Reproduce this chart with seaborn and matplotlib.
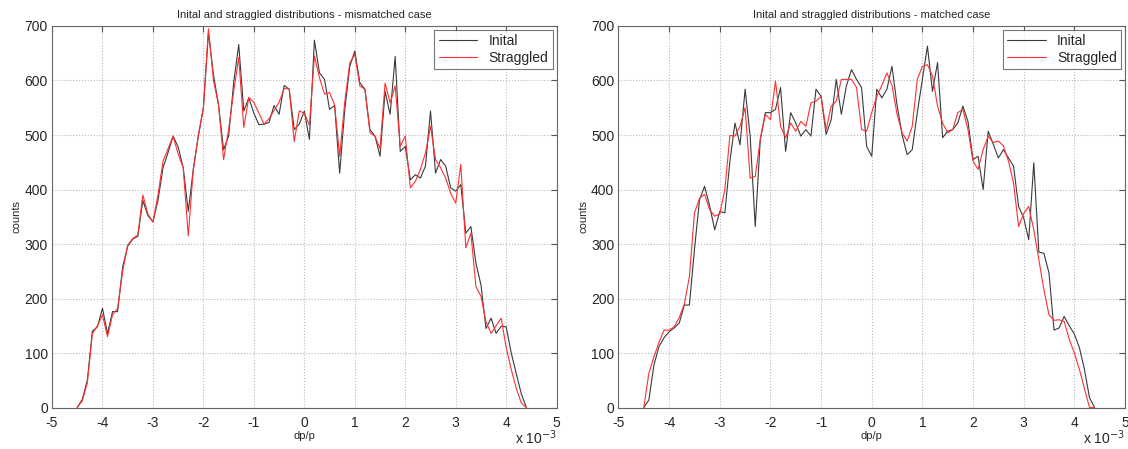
import numpy as np
import pandas as pd
import seaborn as sns
import matplotlib.pyplot as plt
from matplotlib.ticker import FuncFormatter

# bin centres of dp/p (units of 1e-3)
dpp = np.round(np.arange(-45, 45) * 0.1, 1)

# mismatched case
mis_initial = [0, 15, 50, 140, 148, 182, 136, 176, 176, 258,
               296, 309, 314, 380, 352, 341, 380, 440, 468, 498,
               478, 440, 360, 437, 498, 550, 688, 610, 555, 473,
               498, 596, 666, 544, 568, 540, 519, 520, 523, 554,
               538, 591, 584, 510, 520, 544, 492, 674, 614, 602,
               547, 554, 430, 545, 626, 654, 596, 584, 510, 498,
               461, 580, 538, 644, 470, 479, 418, 427, 421, 443,
               544, 430, 455, 443, 403, 397, 409, 320, 332, 265,
               225, 145, 164, 136, 149, 148, 100, 62, 25, 0]
mis_straggled = [0, 12, 45, 135, 150, 170, 130, 170, 182, 250,
                 298, 310, 316, 390, 355, 340, 390, 452, 475, 498,
                 465, 440, 315, 437, 500, 550, 695, 600, 555, 455,
                 510, 580, 642, 514, 569, 560, 540, 520, 530, 545,
                 560, 585, 585, 488, 544, 540, 518, 645, 605, 575,
                 578, 555, 461, 560, 632, 648, 590, 584, 504, 498,
                 475, 595, 559, 590, 479, 498, 403, 415, 437, 467,
                 516, 455, 440, 421, 393, 375, 446, 293, 320, 222,
                 204, 157, 136, 150, 164, 110, 70, 35, 8, 0]

# matched case
mat_initial = [0, 14, 78, 112, 128, 139, 146, 155, 188, 188,
               290, 381, 406, 370, 326, 360, 357, 452, 522, 482,
               584, 498, 332, 492, 541, 541, 547, 587, 470, 541,
               522, 498, 510, 498, 584, 571, 501, 528, 602, 538,
               590, 620, 602, 587, 479, 461, 584, 568, 584, 626,
               555, 500, 464, 473, 541, 602, 663, 580, 633, 495,
               507, 510, 522, 553, 525, 455, 461, 400, 507, 483,
               458, 473, 458, 443, 369, 348, 308, 449, 285, 283,
               247, 142, 146, 167, 150, 135, 110, 70, 18, 0]
mat_straggled = [0, 63, 93, 120, 142, 142, 148, 165, 190, 240,
                 357, 384, 391, 363, 351, 355, 400, 499, 498, 516,
                 550, 421, 424, 492, 538, 528, 599, 516, 495, 522,
                 507, 525, 516, 559, 562, 571, 510, 553, 562, 602,
                 602, 602, 587, 510, 507, 541, 571, 591, 614, 591,
                 538, 504, 489, 516, 602, 626, 629, 608, 553, 522,
                 504, 510, 541, 547, 510, 452, 437, 473, 498, 486,
                 489, 480, 452, 412, 332, 356, 369, 326, 271, 216,
                 170, 160, 161, 158, 125, 100, 70, 35, 0, 0]

series_names = ['Inital', 'Straggled']
panel_titles = ['Inital and straggled distributions - mismatched case',
                'Inital and straggled distributions - matched case']

sns.set_style('white')
plt.rcParams['font.family'] = ['Liberation Sans', 'DejaVu Sans']
plt.rcParams['axes.unicode_minus'] = False

fig = plt.figure(figsize=(11.28, 4.49), dpi=100)
ax_l = fig.add_axes([0.0461, 0.0924, 0.4474, 0.8497])
ax_r = fig.add_axes([0.5483, 0.0924, 0.4490, 0.8497])

panels = [(ax_l, mis_initial, mis_straggled), (ax_r, mat_initial, mat_straggled)]
for (ax, init, strag), title in zip(panels, panel_titles):
    df = pd.DataFrame({
        'dp/p': np.concatenate([dpp, dpp]) * 1e-3,
        'counts': init + strag,
        'series': [series_names[0]] * len(dpp) + [series_names[1]] * len(dpp),
    })
    sns.lineplot(data=df, x='dp/p', y='counts', hue='series', estimator=None,
                 palette={'Inital': '#3a3a3a', 'Straggled': '#ff3030'},
                 linewidth=0.8, ax=ax)
    ax.set_xlim(-5e-3, 5e-3)
    ax.set_ylim(0, 700)
    ax.set_xticks(np.arange(-5, 6) * 1e-3)
    ax.set_yticks(np.arange(0, 701, 100))
    # MATLAB style: tick labels in units of 1e-3, exponent written at the corner
    ax.xaxis.set_major_formatter(FuncFormatter(lambda v, p: '%g' % round(v * 1e3, 6)))
    ax.text(1.0, -0.08, r'x 10$^{-3}$', transform=ax.transAxes,
            ha='right', va='center', fontsize=10)
    ax.grid(True, linestyle=':', color='#b8b8b8', linewidth=0.8)
    ax.tick_params(direction='in', length=4, labelsize=10, top=True, right=True,
                   color='#555555')
    ax.tick_params(axis='x', pad=6)
    ax.tick_params(axis='y', pad=3)
    for s in ax.spines.values():
        s.set_color('#666666')
        s.set_linewidth(0.8)
    ax.set_title(title, fontsize=8, pad=6)
    ax.set_xlabel('dp/p', fontsize=8, labelpad=1)
    ax.set_ylabel('counts', fontsize=8, labelpad=2)
    leg = ax.legend(loc='upper right', fontsize=10, frameon=True, fancybox=False,
                    borderaxespad=0.3, handlelength=2.8, borderpad=0.3,
                    labelspacing=0.2)
    leg.get_frame().set_edgecolor('#555555')
    leg.get_frame().set_linewidth(0.8)

fig.savefig('out.png', dpi=100)
